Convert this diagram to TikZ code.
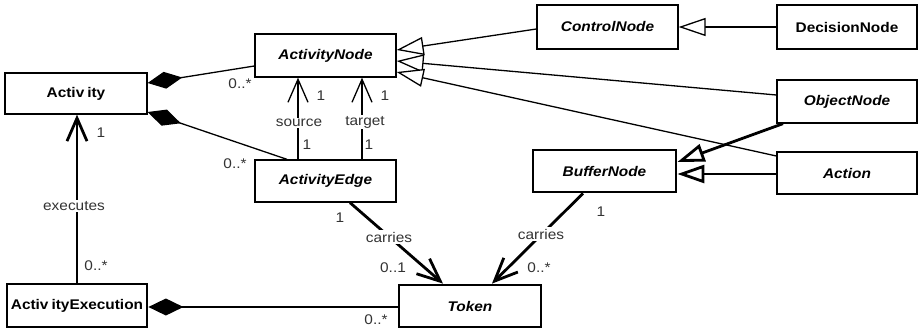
\documentclass[tikz,border=0pt]{standalone}
\usepackage{fontspec}
\setmainfont[FakeStretch=1.1]{Liberation Sans}
\usetikzlibrary{arrows.meta}

\begin{document}
\begin{tikzpicture}[x=1pt,y=-1pt,
  cls/.style={draw, line width=1.3pt, minimum width=141pt, minimum height=42pt,
    inner sep=0pt, font=\fontsize{14}{16}\selectfont\bfseries},
  abs/.style={font=\fontsize{14}{16}\selectfont\bfseries\itshape},
  heavy/.style={line width=2.8pt},
  thinline/.style={line width=1.3pt},
  thickline/.style={line width=2.8pt},
  comp/.style={{Diamond[length=35pt,width=17pt]}-},
  gen/.style={-{Triangle[length=27pt,width=18pt,fill=white]}},
  nav/.style={-{Straight Barb[length=23pt,width=20pt]}},
  mult/.style={font=\fontsize{14}{16}\selectfont, text=black!80, inner sep=0pt},
  role/.style={font=\fontsize{14}{16}\selectfont, text=black!80, fill=white, inner sep=1.5pt}
]
\useasboundingbox (0,0) rectangle (920,331);

% classes
\node[cls] (act) at (76,93.5) [minimum width=142pt, minimum height=41pt] {Activ\kern3pt ity};
\node[cls,abs] (an) at (325.5,55.5) [minimum height=43pt] {ActivityNode};
\node[cls,abs] (ae) at (325.5,181) {ActivityEdge};
\node[cls,abs] (cn) at (607.5,27) [minimum height=44pt] {ControlNode};
\node[cls] (dn) at (847,27) [minimum width=140pt, minimum height=44pt] {DecisionNode};
\node[cls,abs] (on) at (847,101.5) [minimum width=140pt, minimum height=43pt] {ObjectNode};
\node[cls,abs] (ac) at (847,173) [minimum width=140pt] {Action};
\node[cls,abs,heavy] (bn) at (604.5,171) [minimum width=143pt] {BufferNode};
\node[cls,abs,heavy] (tk) at (470,306) [minimum width=142pt] {Token};
\node[cls,heavy] (ax) at (77,305.5) [minimum width=140pt, minimum height=43pt] {Activ\kern3pt ityExecution};

% compositions
\draw[thinline,comp] (act.east |- 0,83) -- (an.west |- 0,66);
\draw[thinline,comp] (act.east |- 0,112) -- (ae.north -| 287,0);
\draw[thickline,comp] (ax.east |- 0,307) -- (tk.west |- 0,307);

% source / target
\draw[thinline,nav] (ae.north -| 298,0) -- (an.south -| 298,0);
\draw[thinline,nav] (ae.north -| 362,0) -- (an.south -| 362,0);

% generalizations
\draw[thinline,gen] (cn.west |- 0,29) -- (an.east |- 0,50);
\draw[thinline,gen] (on.west |- 0,95) -- (an.east |- 0,61);
\draw[thinline,gen] (ac.west |- 0,156) -- (an.east |- 0,72);
\draw[thinline,gen] (dn.west) -- (cn.east);
\draw[thickline,gen] (on.south -| 783,0) -- (bn.east |- 0,162);
\draw[thickline,gen] (ac.west |- 0,174) -- (bn.east |- 0,174);

% navigable associations
\draw[thickline,nav] (ae.south -| 350,0) -- (tk.north -| 443,0);
\draw[thickline,nav] (bn.south -| 583,0) -- (tk.north -| 492,0);
\draw[thickline,nav] (ax.north) -- (act.south -| ax.north);

% role names
\node[role] at (299,123) {source};
\node[role] at (365,122) {target};
\node[role] at (389,237) {carries};
\node[role] at (541,234) {carries};
\node[role] at (74,206) {executes};

% multiplicities
\node[mult] at (240,84) {0..*};
\node[mult] at (235,164) {0..*};
\node[mult] at (321,96) {1};
\node[mult] at (307,145) {1};
\node[mult] at (385,96) {1};
\node[mult] at (369,145) {1};
\node[mult] at (101,133) {1};
\node[mult] at (96,266) {0..*};
\node[mult] at (376,320) {0..*};
\node[mult] at (340,218) {1};
\node[mult] at (393,268) {0..1};
\node[mult] at (539,268) {0..*};
\node[mult] at (601,212) {1};
\end{tikzpicture}
\end{document}
